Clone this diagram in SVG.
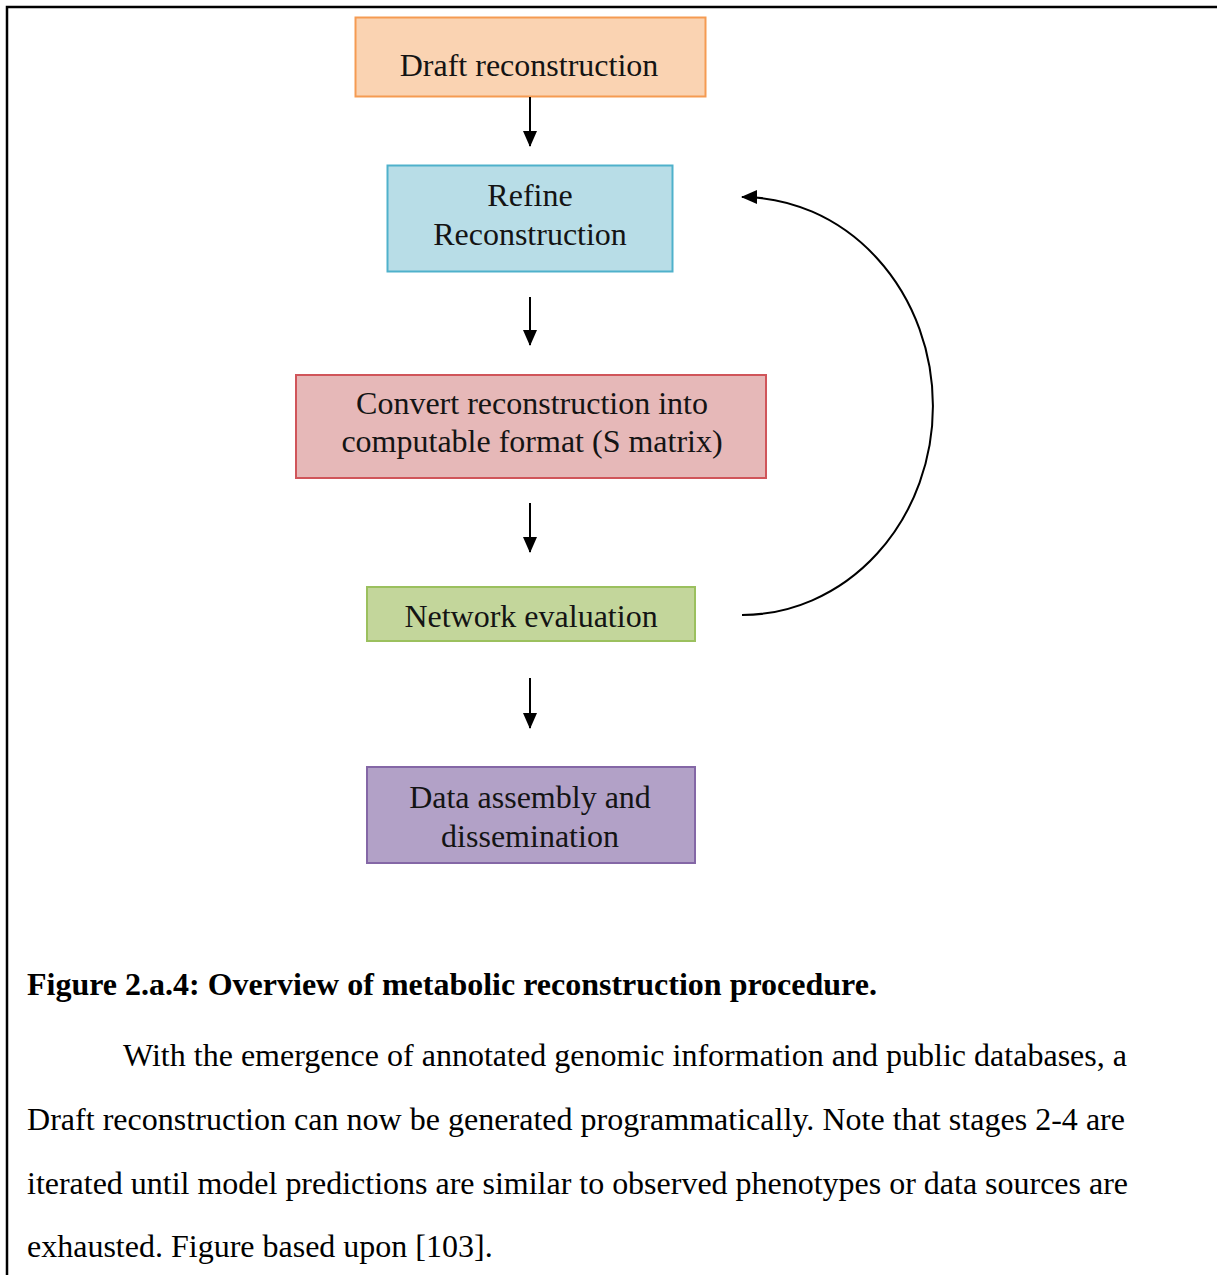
<svg xmlns="http://www.w3.org/2000/svg" width="1217" height="1275" viewBox="0 0 1217 1275">
  <style>
    .box { stroke-width: 2; }
    .label { font-family: "Times New Roman", "Liberation Serif", Tinos, "DejaVu Serif", serif; font-size: 32px; fill: #141414; text-anchor: middle; }
    .body { font-family: "Times New Roman", "Liberation Serif", Tinos, "DejaVu Serif", serif; font-size: 32px; fill: #000; }
    .caption { font-family: "Times New Roman", "Liberation Serif", Tinos, "DejaVu Serif", serif; font-size: 32px; font-weight: bold; fill: #000; }
    .edge { fill: none; stroke: #000; stroke-width: 2; }
  </style>
  <defs>
    <marker id="arrow" viewBox="0 0 16 14" refX="15" refY="7" markerWidth="16" markerHeight="14" markerUnits="userSpaceOnUse" orient="auto">
      <path d="M0,0 L16,7 L0,14 Z" fill="#000"/>
    </marker>
  </defs>

  <rect width="1217" height="1275" fill="#fff"/>

  <!-- page frame (top and left rules) -->
  <path d="M7,1275 L7,7 L1217,7" fill="none" stroke="#000" stroke-width="2.5"/>

  <g id="draft">
    <rect class="box" x="355.5" y="17.5" width="350" height="79" fill="#FAD3B2" stroke="#F59B52"/>
    <text class="label" x="529" y="76">Draft reconstruction</text>
  </g>

  <g id="refine">
    <rect class="box" x="387.5" y="165.5" width="285" height="106" fill="#B8DDE7" stroke="#4FB1CB"/>
    <text class="label" x="530" y="206">Refine</text>
    <text class="label" x="530" y="245">Reconstruction</text>
  </g>

  <g id="convert">
    <rect class="box" x="296" y="375" width="470" height="103" fill="#E6B8B8" stroke="#D0555A"/>
    <text class="label" x="532" y="414">Convert reconstruction into</text>
    <text class="label" x="532" y="452">computable format (S matrix)</text>
  </g>

  <g id="evaluate">
    <rect class="box" x="367" y="587" width="328" height="54" fill="#C3D69B" stroke="#9BC05E"/>
    <text class="label" x="531" y="627">Network evaluation</text>
  </g>

  <g id="assembly">
    <rect class="box" x="367" y="767" width="328" height="96" fill="#B2A1C7" stroke="#8467A6"/>
    <text class="label" x="530" y="808">Data assembly and</text>
    <text class="label" x="530" y="847">dissemination</text>
  </g>

  <g id="connectors">
    <line class="edge" x1="530" y1="97" x2="530" y2="146" marker-end="url(#arrow)"/>
    <line class="edge" x1="530" y1="297" x2="530" y2="345" marker-end="url(#arrow)"/>
    <line class="edge" x1="530" y1="503" x2="530" y2="552" marker-end="url(#arrow)"/>
    <line class="edge" x1="530" y1="678" x2="530" y2="728" marker-end="url(#arrow)"/>
    <path class="edge" d="M742,615 A191,209 0 0 0 742,197" marker-end="url(#arrow)"/>
  </g>

  <g id="caption">
    <text class="caption" x="27" y="995">Figure 2.a.4: Overview of metabolic reconstruction procedure.</text>
    <text class="body" x="123" y="1066" textLength="1004" lengthAdjust="spacing">With the emergence of annotated genomic information and public databases, a</text>
    <text class="body" x="27" y="1130" textLength="1098" lengthAdjust="spacing">Draft reconstruction can now be generated programmatically. Note that stages 2-4 are</text>
    <text class="body" x="27" y="1194" textLength="1101" lengthAdjust="spacing">iterated until model predictions are similar to observed phenotypes or data sources are</text>
    <text class="body" x="27" y="1257">exhausted. Figure based upon [103].</text>
  </g>
</svg>
